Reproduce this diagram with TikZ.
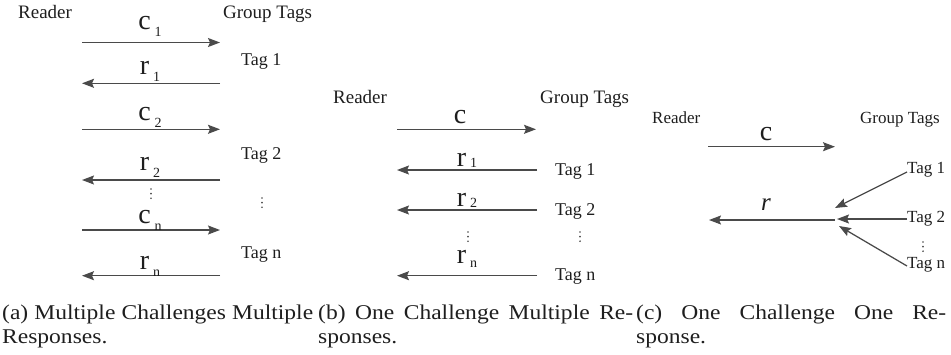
\documentclass[tikz,border=0pt]{standalone}
\usepackage{fontspec}
\usetikzlibrary{arrows.meta}
\newfontfamily\tnr{Liberation Serif}
\newfontfamily\capfont{Liberation Serif}[FakeStretch=1.12]
\definecolor{arrowgray}{HTML}{4A4A4A}
\definecolor{inkgray}{HTML}{1E1E1E}
% lowered index after a message name (optional drop, default 7pt)
\newcommand\msgsub[2][7pt]{\hspace{4pt}\raisebox{-#1}{\fontsize{14}{14}\selectfont #2}}
\begin{document}
\begin{tikzpicture}[x=1pt,y=-1pt,
  every node/.style={inner sep=0pt,text=inkgray},
  head/.style={font=\tnr\fontsize{19}{19}\selectfont,anchor=base west},
  headc/.style={font=\tnr\fontsize{17}{17}\selectfont,anchor=base west},
  tag/.style={font=\tnr\fontsize{18}{18}\selectfont,anchor=base west},
  tagc/.style={font=\tnr\fontsize{17}{17}\selectfont,anchor=base west},
  msg/.style={font=\tnr\fontsize{28}{28}\selectfont,anchor=base},
  caption/.style={font=\capfont\fontsize{21}{21}\selectfont,anchor=base west},
  flow/.style={draw=arrowgray,line width=1.25pt,
    -{Stealth[length=12pt,width=9pt,inset=2pt]}},
  vdotsmark/.pic={\foreach \k in {0,1,2}
    \fill[arrowgray] (0,\k*4.6) circle (0.95);}
]
\useasboundingbox (0,0) rectangle (951,354);

% ---------- (a) multiple challenges, multiple responses ----------
\node[head] (ra) at (18,18) {Reader};
\node[head] (ga) at (223,18) {Group Tags};
\node[tag] (ta1) at (241,65) {Tag 1};
\node[tag] (ta2) at (241,159) {Tag 2};
\node[tag] (tan) at (241,258) {Tag n};

\coordinate (aL1) at (82,42.5);  \coordinate (aR1) at (220,42.5);
\coordinate (aL2) at (82,83.3);  \coordinate (aR2) at (220,83.3);
\coordinate (aL3) at (82,129.3); \coordinate (aR3) at (220,129.3);
\coordinate (aL4) at (82,180);   \coordinate (aR4) at (220,180);
\coordinate (aL5) at (82,230);   \coordinate (aR5) at (220,230);
\coordinate (aL6) at (82,275.7); \coordinate (aR6) at (220,275.7);

\draw[flow] (aL1) -- (aR1);
\draw[flow] (aR2) -- (aL2);
\draw[flow] (aL3) -- (aR3);
\draw[flow] (aR4) -- (aL4);
\draw[flow] (aL5) -- (aR5);
\draw[flow] (aR6) -- (aL6);

\node[msg] (mc1) at (150,29)  {c\msgsub{1}};
\node[msg] (mr1) at (150,74)  {r\msgsub{1}};
\node[msg] (mc2) at (150,120) {c\msgsub{2}};
\node[msg] (mr2) at (150,170) {r\msgsub{2}};
\node[msg] (mcn) at (150,223) {c\msgsub{n}};
\node[msg] (mrn) at (150,269) {r\msgsub{n}};

\pic at (151,189) {vdotsmark};
\pic at (262,198) {vdotsmark};

% ---------- (b) one challenge, multiple responses ----------
\node[head] (rb) at (333,103) {Reader};
\node[head] (gb) at (540,103) {Group Tags};
\node[tag] (tb1) at (555,175) {Tag 1};
\node[tag] (tb2) at (555,215) {Tag 2};
\node[tag] (tbn) at (555,280) {Tag n};

\coordinate (bL1) at (397,129.3); \coordinate (bR1) at (536,129.3);
\coordinate (bL2) at (397,170);   \coordinate (bR2) at (537,170);
\coordinate (bL3) at (397,210);   \coordinate (bR3) at (537,210);
\coordinate (bL4) at (397,275.7); \coordinate (bR4) at (537,275.7);

\draw[flow] (bL1) -- (bR1);
\draw[flow] (bR2) -- (bL2);
\draw[flow] (bR3) -- (bL3);
\draw[flow] (bR4) -- (bL4);

\node[msg] (mcb) at (460,123) {c};
\node[msg] (mb1) at (467,166) {r\msgsub[1.5pt]{1}};
\node[msg] (mb2) at (467,206) {r\msgsub[1.5pt]{2}};
\node[msg] (mbn) at (467,263) {r\msgsub[4pt]{n}};

\pic at (468,232) {vdotsmark};
\pic at (580,232) {vdotsmark};

% ---------- (c) one challenge, one response ----------
\node[headc] (rc) at (652,123) {Reader};
\node[headc] (gc) at (860,123) {Group Tags};
\node[tagc] (tc1) at (907,173) {Tag 1};
\node[tagc] (tc2) at (907,222) {Tag 2};
\node[tagc] (tcn) at (907,268) {Tag n};

\coordinate (cL1) at (708,146.7); \coordinate (cR1) at (835,146.7);
\coordinate (cL2) at (709,220);   \coordinate (cR2) at (835,220);
\coordinate (j1) at (835,208);
\coordinate (j2) at (837,219);
\coordinate (jn) at (839,226);

\draw[flow] (cL1) -- (cR1);
\draw[flow] (cR2) -- (cL2);
\draw[flow] ([yshift=1pt]tc1.base west) -- (j1);
\draw[flow] ([yshift=3pt]tc2.base west) -- (j2);
\draw[flow] ([yshift=2pt]tcn.base west) -- (jn);

\node[msg] (mcc) at (766,140) {c};
\node[msg,font=\tnr\itshape\fontsize{25}{25}\selectfont] (mrc) at (766,210) {r};

\pic at (923,242) {vdotsmark};

% ---------- captions ----------
\node[caption] (capa1) at (2,319) {\makebox[311pt][s]{(a) Multiple Challenges Multiple}};
\node[caption] (capa2) at (2,343) {Responses.};
\node[caption] (capb1) at (318,319) {\makebox[315pt][s]{(b) One Challenge Multiple Re-}};
\node[caption] (capb2) at (318,343) {sponses.};
\node[caption] (capc1) at (636,319) {\makebox[310pt][s]{(c) One Challenge One Re-}};
\node[caption] (capc2) at (636,343) {sponse.};
\end{tikzpicture}
\end{document}
